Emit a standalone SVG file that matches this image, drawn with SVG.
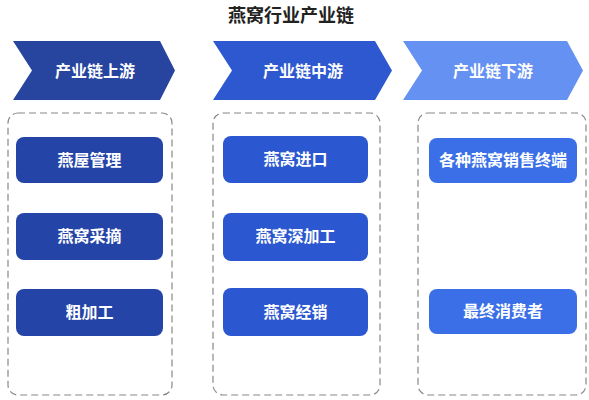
<svg xmlns="http://www.w3.org/2000/svg" width="589" height="400" viewBox="0 0 589 400">
<style>
.t{font-family:"Noto Sans CJK SC","Noto Sans",sans-serif;font-weight:bold;fill:#fff;font-size:16px;text-anchor:middle}
.title{font-family:"Noto Sans CJK SC","Noto Sans",sans-serif;font-weight:bold;fill:#222;font-size:18px;text-anchor:middle}
.box{fill:#fff;stroke:#888;stroke-width:1.2;stroke-dasharray:7 4}
.c1{fill:#2544A8}.c2{fill:#2B57D0}.c3{fill:#3A6FE8}
</style>
<rect width="589" height="400" fill="#fff"/>
<text class="title" x="291" y="22">燕窝行业产业链</text>
<g id="stage-up"><path d="M13,41 L160,41 L175,70.5 L160,100 L13,100 L32,70.5 Z" fill="#27449F"/><text class="t" x="95" y="77">产业链上游</text></g>
<g id="stage-mid"><path d="M213,41 L375,41 L392,70.5 L375,100 L213,100 L232,70.5 Z" fill="#2E58CF"/><text class="t" x="303" y="77">产业链中游</text></g>
<g id="stage-down"><path d="M403,41 L567,41 L583,70.5 L567,100 L403,100 L422,70.5 Z" fill="#6591F2"/><text class="t" x="493" y="77">产业链下游</text></g>
<g id="group-up"><rect class="box" x="8" y="113" width="164" height="282" rx="10"/></g>
<g id="group-mid"><rect class="box" x="213" y="113" width="167" height="282" rx="10"/></g>
<g id="group-down"><rect class="box" x="418" y="113" width="168" height="282" rx="10"/></g>
<g id="n1"><rect class="c1" x="16" y="137" width="147" height="46" rx="8"/><text class="t" x="89.5" y="166">燕屋管理</text></g>
<g id="n2"><rect class="c1" x="16" y="213" width="147" height="47" rx="8"/><text class="t" x="89.5" y="242">燕窝采摘</text></g>
<g id="n3"><rect class="c1" x="16" y="289" width="147" height="47" rx="8"/><text class="t" x="89.5" y="318">粗加工</text></g>
<g id="n4"><rect class="c2" x="223" y="136" width="145" height="47" rx="8"/><text class="t" x="295.5" y="165">燕窝进口</text></g>
<g id="n5"><rect class="c2" x="223" y="213" width="145" height="48" rx="8"/><text class="t" x="295.5" y="242">燕窝深加工</text></g>
<g id="n6"><rect class="c2" x="223" y="288" width="145" height="48" rx="8"/><text class="t" x="295.5" y="318">燕窝经销</text></g>
<g id="n7"><rect class="c3" x="429" y="138" width="148" height="45" rx="8"/><text class="t" x="503" y="166">各种燕窝销售终端</text></g>
<g id="n8"><rect class="c3" x="429" y="289" width="148" height="45" rx="8"/><text class="t" x="503" y="317">最终消费者</text></g>
<g id="connectors"></g>
</svg>
